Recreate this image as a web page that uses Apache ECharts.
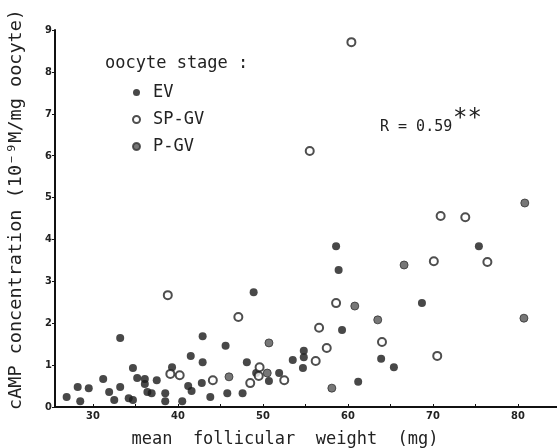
<!DOCTYPE html>
<html><head><meta charset="utf-8">
<script src="https://cdn.jsdelivr.net/npm/echarts@6/dist/echarts.min.js"></script>
<style>html,body{margin:0;padding:0;background:#fff}#c{width:557px;height:448px}</style>
</head><body><div id="c"></div>
<script>
// EV (filled black)
const evX = [26.9,28.2,28.5,29.5,31.2,31.9,32.5,33.2,33.2,34.2,34.7,34.7,35.2,36.1,36.1,36.4,36.9,37.5,38.5,38.5,39.3,40.5,41.2,41.6,41.5,42.9,42.9,42.8,43.8,45.6,45.8,47.6,48.1,48.9,49.2,50.7,51.9,53.5,54.8,54.8,54.7,58.6,58.9,59.3,61.2,63.9,65.4,68.7,75.4];
const evY = [0.24,0.48,0.14,0.45,0.67,0.36,0.17,1.65,0.48,0.21,0.17,0.93,0.69,0.67,0.55,0.36,0.33,0.64,0.33,0.14,0.95,0.14,0.50,0.38,1.22,1.69,1.07,0.57,0.24,1.46,0.33,0.33,1.07,2.74,0.81,0.62,0.81,1.12,1.34,1.19,0.93,3.84,3.27,1.84,0.60,1.15,0.95,2.48,3.84];
// SP-GV (open circles)
const spX = [38.8,39.1,40.2,44.1,47.1,48.5,49.6,49.5,52.5,56.2,56.6,57.5,55.5,60.4,58.6,64.0,70.1,70.5,70.9,73.8,76.4];
const spY = [2.67,0.79,0.76,0.64,2.15,0.57,0.95,0.74,0.64,1.10,1.89,1.41,6.11,8.71,2.48,1.55,3.48,1.22,4.56,4.53,3.46];
// P-GV (grey dots)
const pgX = [46.0,50.7,50.5,58.1,63.5,60.8,66.6,80.8,80.7];
const pgY = [0.72,1.53,0.81,0.45,2.08,2.41,3.39,4.87,2.12];

const xLabels = [30,40,50,60,70,80];
const xTicks = [30,35,40,45,50,55,60,65,70,75,80];

const zip = (a,b)=>a.map((v,i)=>[v,b[i]]);
const F = 'DejaVu Sans Mono';
const chart = echarts.init(document.getElementById('c'), null, {renderer:'canvas'});
chart.setOption({
  animation:false,
  backgroundColor:'#fff',
  title:{text:'oocyte stage :', left:100, top:50, textStyle:{fontFamily:F, fontSize:17, fontWeight:'normal', color:'#222'}},
  legend:{
    orient:'vertical', left:127, top:79, itemGap:10, itemWidth:7, itemHeight:7,
    textStyle:{fontFamily:F, fontSize:17, color:'#222', padding:[0,0,0,8]},
    data:['EV','SP-GV','P-GV']
  },
  grid:{left:55, right:0, top:30, bottom:41, outerBoundsMode:'none', containLabel:false},
  xAxis:{
    type:'value', min:25.53, max:84.59,
    name:'mean  follicular  weight  (mg)', nameLocation:'middle', nameGap:24,
    nameTextStyle:{fontFamily:F, fontSize:17, color:'#222', padding:[0,42,0,0]},
    axisLine:{lineStyle:{color:'#111', width:2}},
    axisTick:{show:true, inside:true, length:3, customValues:xTicks, lineStyle:{color:'#111'}},
    axisLabel:{customValues:xLabels, fontFamily:'DejaVu Sans Condensed', fontSize:11, fontWeight:'bold', color:'#222', margin:4},
    splitLine:{show:false}
  },
  yAxis:{
    type:'value', min:0, max:9, interval:1,
    name:'cAMP concentration (10⁻⁹M/mg oocyte)', nameLocation:'middle', nameGap:29, nameRotate:90,
    nameTextStyle:{fontFamily:F, fontSize:18.5, color:'#222', padding:[0,0,0,18]},
    axisLine:{show:true, lineStyle:{color:'#111', width:2}},
    axisTick:{show:true, length:3, lineStyle:{color:'#111'}},
    axisLabel:{fontFamily:'DejaVu Sans Condensed', fontSize:11, fontWeight:'bold', color:'#222', margin:3},
    splitLine:{show:false}
  },
  graphic:[
    {type:'text', left:380, top:120, style:{text:'R = 0.59', fontFamily:F, fontSize:15, fill:'#222'}},
    {type:'text', left:453, top:107, style:{text:'**', fontFamily:F, fontSize:24, fill:'#222'}}
  ],
  series:[
    {name:'EV', type:'scatter', data:zip(evX,evY), symbol:'circle', symbolSize:8,
     itemStyle:{color:'#1a1a1a'}},
    {name:'SP-GV', type:'scatter', data:zip(spX,spY), symbol:'circle', symbolSize:8,
     itemStyle:{color:'#fff', borderColor:'#222', borderWidth:2}},
    {name:'P-GV', type:'scatter', data:zip(pgX,pgY), symbol:'circle', symbolSize:8,
     itemStyle:{color:'#555', borderColor:'#333', borderWidth:1}}
  ]
});
</script></body></html>
